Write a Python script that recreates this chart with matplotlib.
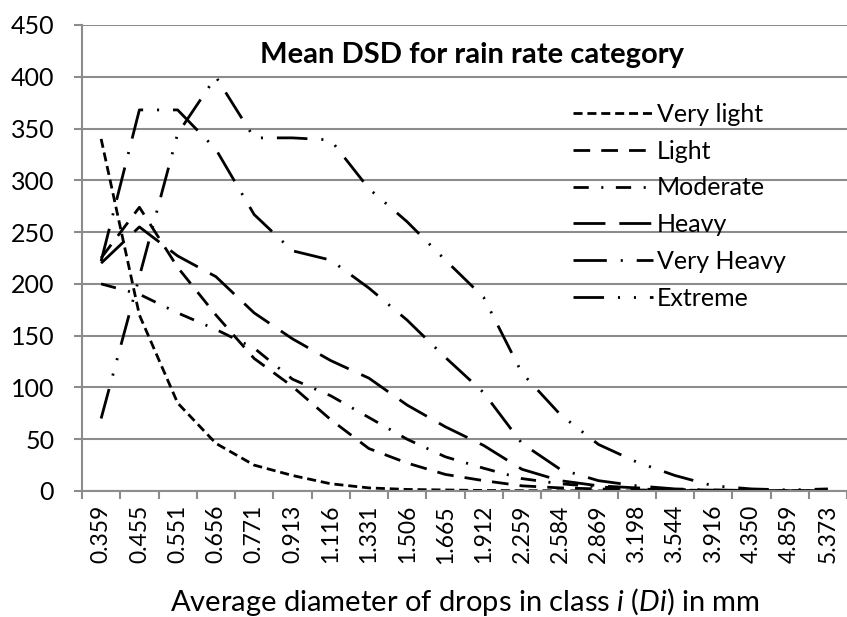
import matplotlib
matplotlib.use("Agg")
import matplotlib.pyplot as plt
import numpy as np

plt.rcParams['font.family'] = ['Lato', 'DejaVu Sans']
plt.rcParams['mathtext.fontset'] = 'custom'
plt.rcParams['mathtext.rm'] = 'Lato'
plt.rcParams['mathtext.it'] = 'Lato:italic'
plt.rcParams['lines.scale_dashes'] = False

# average drop diameter per class (mm)
diam = ['0.359', '0.455', '0.551', '0.656', '0.771', '0.913', '1.116', '1.331',
        '1.506', '1.665', '1.912', '2.259', '2.584', '2.869', '3.198', '3.544',
        '3.916', '4.350', '4.859', '5.373']

very_light = [340, 170, 85, 46, 25, 15, 7, 3, 1.5, 1, 0.5, 0.3, 0.2, 0.1, 0, 0, 0, 0, 0, 0]
light = [225, 274, 216, 170, 128, 101, 69, 41, 27, 16, 10, 5, 3, 2, 1, 0.5, 0.2, 0, 0, 0]
moderate = [200, 190, 172, 156, 138, 108, 92, 71, 50, 33, 22, 12, 7, 4, 2, 1, 0.5, 0.2, 0, 0]
heavy = [220, 255, 227, 207, 172, 147, 126, 109, 83, 62, 44, 21, 10, 5, 3, 1.5, 0.8, 0.3, 0.1, 0]
very_heavy = [222, 368, 368, 330, 267, 232, 223, 196, 165, 129, 95, 46, 21, 10, 5, 2, 1, 0.5, 0.2, 0.1]
extreme = [70, 207, 345, 400, 341, 341, 339, 292, 260, 223, 187, 114, 74, 45, 28, 15, 5, 2, 1, 2]

names = ['Very light', 'Light', 'Moderate', 'Heavy', 'Very Heavy', 'Extreme']
series = [very_light, light, moderate, heavy, very_heavy, extreme]
dashes = [(6.5, 3.5), (12, 8), (11, 9, 1.5, 9), (23, 10),
          (24, 10, 1.5, 10), (22, 10, 1.5, 10, 1.5, 10)]

fig = plt.figure(figsize=(8.47, 6.17), dpi=100)
ax = fig.add_axes([82 / 847, 1 - 491 / 617, 1 - 82 / 847, (491 - 25) / 617])

x = np.arange(len(diam))
for s, name, d in zip(series, names, dashes):
    ax.plot(x, s, color='black', lw=2.0, dashes=d, label=name,
            solid_capstyle='butt', dash_capstyle='butt')

ax.set_ylim(0, 450)
ax.set_xlim(-0.5, 19.35)
ax.set_yticks(np.arange(0, 451, 50))
ax.yaxis.grid(True, color='#8c8c8c', lw=1.5)
ax.set_axisbelow(True)

ax.set_xticks(x)
ax.set_xticklabels(diam, rotation=90, fontsize=16.5)
ax.set_xticks(np.arange(-0.5, 19.6, 1), minor=True)
ax.tick_params(axis='x', which='major', length=0, pad=10)
ax.tick_params(axis='x', which='minor', length=6, color='#8c8c8c', width=1.5)
ax.tick_params(axis='y', length=6, color='#8c8c8c', width=1.5, labelsize=18, pad=14)

for side in ['top', 'right']:
    ax.spines[side].set_visible(False)
for side in ['left', 'bottom']:
    ax.spines[side].set_color('#8c8c8c')
    ax.spines[side].set_linewidth(1.5)

ax.set_xlabel('Average diameter of drops in class $\\mathit{i}$ ($\\mathit{Di}$) in mm',
              fontsize=21, labelpad=16)
fig.text(472 / 847, 1 - 55 / 617, 'Mean DSD for rain rate category',
         fontsize=21, fontweight='bold', ha='center', va='center')

ax.legend(loc='upper left', bbox_to_anchor=(0.642, 0.833), frameon=False,
          fontsize=18, handlelength=3.2, handletextpad=0.15, labelspacing=0.55,
          borderpad=0, borderaxespad=0)

fig.savefig('out.png', dpi=100)
